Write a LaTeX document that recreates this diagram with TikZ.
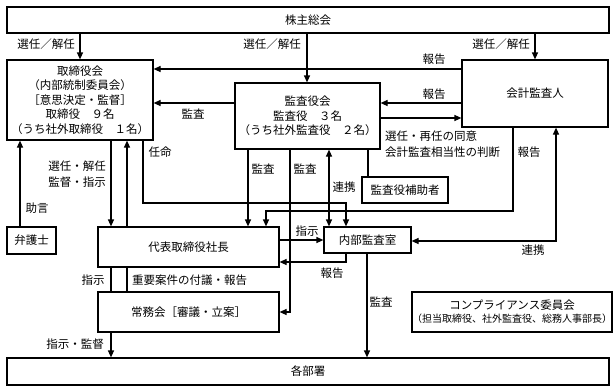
\documentclass[tikz,border=0pt]{standalone}
\usepackage{fontspec}
\setmainfont{Noto Sans CJK JP}
\usetikzlibrary{arrows.meta}
\newcommand\fsmain{\fontsize{11.5}{14.6}\selectfont}
\newcommand\fssmall{\fontsize{10}{12.5}\selectfont}
\begin{document}
\begin{tikzpicture}[x=1pt,y=-1pt,
  box/.style={draw,line width=1.2pt,inner sep=0pt,align=center,fill=white,font=\fsmain},
  ln/.style={line width=1.2pt},
  arr/.style={ln,-{Triangle[length=7pt,width=6pt]}},
  darr/.style={ln,{Triangle[length=7pt,width=6pt]}-{Triangle[length=7pt,width=6pt]}},
  lbl/.style={inner sep=0pt,font=\fsmain}]
\useasboundingbox (0,0) rectangle (615,391);
\fill[white] (0,0) rectangle (615,391);

% boxes
\node[box,minimum width=602pt,minimum height=26pt] (kabu) at (308,20) {株主総会};
\node[box,minimum width=146pt,minimum height=80pt] (tk) at (80,100)
  {取締役会\\（内部統制委員会）\\［意思決定・監督］\\取締役　９名\\（うち社外取締役　１名）};
\node[box,minimum width=145pt,minimum height=66pt] (kansa) at (307.5,116)
  {監査役会\\監査役　３名\\（うち社外監査役　２名）};
\node[box,minimum width=146pt,minimum height=67pt] (kaikei) at (535,93.5) {会計監査人};
\node[box,minimum width=86pt,minimum height=26pt] (hojo) at (405,190) {監査役補助者};
\node[box,minimum width=49pt,minimum height=27pt] (bengo) at (31.5,240.5) {弁護士};
\node[box,minimum width=181pt,minimum height=40pt] (daihyo) at (188.5,247) {代表取締役社長};
\node[box,minimum width=87pt,minimum height=26pt] (naibu) at (367.5,240) {内部監査室};
\node[box,minimum width=181pt,minimum height=40pt] (jomu) at (188.5,312) {常務会［審議・立案］};
\node[box,minimum width=602pt,minimum height=27pt] (kakubu) at (308,371.5) {各部署};
\node[box,minimum width=194pt,minimum height=40pt] (comp) at (512,312)
  {コンプライアンス委員会\\[-1.5pt]{\fssmall （担当取締役、社外監査役、総務人事部長）}};

% shareholders
\draw[arr] (kabu.south -| 80,0) -- (tk.north -| 80,0);
\node[lbl] at (46,44) {選任／解任};
\draw[arr] (kabu.south -| 307,0) -- (kansa.north -| 307,0);
\node[lbl] at (272,44) {選任／解任};
\draw[arr] (kabu.south -| 535,0) -- (kaikei.north -| 535,0);
\node[lbl] at (501,44) {選任／解任};

% accounting auditor <-> boards
\draw[arr] (kaikei.west |- 0,69) -- (tk.east |- 0,69);
\node[lbl] at (434,59) {報告};
\draw[arr] (kaikei.west |- 0,103) -- (kansa.east |- 0,103);
\node[lbl] at (434,94) {報告};
\draw[arr] (kansa.east |- 0,118) -- (kaikei.west |- 0,118);
\node[lbl,anchor=west,align=left,font=\fontsize{11.5}{16}\selectfont] at (385,144)
  {選任・再任の同意\\会計監査相当性の判断};
\draw[arr] (kansa.west |- 0,103) -- (tk.east |- 0,103);
\node[lbl] at (193,114) {監査};

% board of directors bottom
\draw[arr] (bengo.north -| 20,0) -- (tk.south -| 20,0);
\node[lbl] at (37,208) {助言};
\draw[arr] (tk.south -| 111,0) -- (daihyo.north -| 111,0);
\node[lbl,anchor=east,align=right,font=\fontsize{11.5}{16}\selectfont] at (106,174)
  {選任・解任\\監督・指示};
\draw[arr] (daihyo.north -| 127,0) -- (tk.south -| 127,0);
\draw[ln] (jomu.north -| 127,0) -- (daihyo.south -| 127,0);
\node[lbl,anchor=west] at (132,280) {重要案件の付議・報告};
\draw[ln] (daihyo.south -| 111,0) -- (jomu.north -| 111,0);
\node[lbl] at (93,280) {指示};
\draw[arr] (tk.south -| 143,0) -- (143,203) -- (346,203) -- (naibu.north -| 346,0);
\node[lbl] at (160,152) {任命};

% audit board bottom
\draw[arr] (kansa.south -| 248,0) -- (daihyo.north -| 248,0);
\node[lbl] at (263,169) {監査};
\draw[arr] (kansa.south -| 290,0) -- (290,312) -- (jomu.east |- 0,312);
\node[lbl] at (305,169) {監査};
\draw[darr] (kansa.south -| 329,0) -- (naibu.north -| 329,0);
\node[lbl] at (344,187) {連携};
\draw[ln] (kansa.south -| 368,0) -- (hojo.north -| 368,0);

% accounting auditor bottom
\draw[arr] (kaikei.south -| 513,0) -- (513,211) -- (266,211) -- (daihyo.north -| 266,0);
\node[lbl] at (529,152) {報告};
\draw[darr] (kaikei.south -| 556,0) -- (556,241) -- (naibu.east |- 0,241);
\node[lbl] at (533,250) {連携};

% president <-> internal audit
\draw[arr] (daihyo.east |- 0,240) -- (naibu.west |- 0,240);
\node[lbl] at (307,231) {指示};
\draw[arr] (naibu.south -| 346,0) -- (346,262) -- (daihyo.east |- 0,262);
\node[lbl] at (332,273) {報告};
\draw[arr] (naibu.south -| 367,0) -- (kakubu.north -| 367,0);
\node[lbl] at (381,302) {監査};

% executive committee -> departments
\draw[arr] (jomu.south -| 111,0) -- (kakubu.north -| 111,0);
\node[lbl] at (75,344) {指示・監督};
\end{tikzpicture}
\end{document}
